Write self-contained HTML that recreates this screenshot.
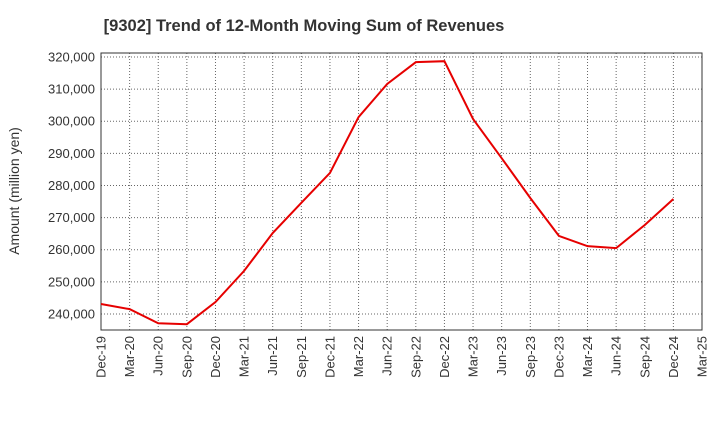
<!DOCTYPE html>
<html><head><meta charset="utf-8"><style>
body{margin:0;background:#fff;font-family:"Liberation Sans",sans-serif}
</style></head><body>
<svg id="c" width="720" height="440" xmlns="http://www.w3.org/2000/svg">
<text x="304" y="31" font-size="16.5" font-weight="bold" text-anchor="middle" fill="#333">[9302]  Trend of 12-Month Moving Sum of Revenues</text>
<text transform="translate(19,191) rotate(-90)" font-size="14" text-anchor="middle" fill="#333">Amount (million yen)</text>
<g id="grid"></g><g id="axes"></g>
<polyline id="line" fill="none" stroke="#e60000" stroke-width="2"/>
</svg>
<script>
const categories=["Dec-19","Mar-20","Jun-20","Sep-20","Dec-20","Mar-21","Jun-21","Sep-21","Dec-21","Mar-22","Jun-22","Sep-22","Dec-22","Mar-23","Jun-23","Sep-23","Dec-23","Mar-24","Jun-24","Sep-24","Dec-24","Mar-25"];
const values=[243100,241500,237100,236800,243700,253400,265200,274600,283900,301300,311600,318400,318700,300700,288500,276100,264300,261100,260500,267700,275800];
const yTicks=[240000,250000,260000,270000,280000,290000,300000,310000,320000];
const X0=101,X1=702,Y0=330,Y1=53,YMIN=235000,YMAX=321250;
const ns="http://www.w3.org/2000/svg";
const x=i=>X0+(X1-X0)*i/(categories.length-1);
const y=v=>Y0-(v-YMIN)/(YMAX-YMIN)*(Y0-Y1);
const g=document.getElementById('grid'),a=document.getElementById('axes');
function mk(t,at,p){const e=document.createElementNS(ns,t);for(const k in at)e.setAttribute(k,at[k]);p.appendChild(e);return e;}
categories.forEach((c,i)=>{
 const l=mk('line',{x1:x(i),x2:x(i),y1:Y1,y2:Y0,stroke:'#666','stroke-dasharray':'1,2','stroke-width':1},g);
 
 
 const t=mk('text',{transform:`translate(${x(i)+4.5},${Y0+6}) rotate(-90)`,'font-size':13,'text-anchor':'end',fill:'#333'},a);
 t.textContent=c;
 
 
});
yTicks.forEach(v=>{
 const l=mk('line',{x1:X0,x2:X1,y1:y(v),y2:y(v),stroke:'#666','stroke-dasharray':'1,2','stroke-width':1},g);
 
 
 const t=mk('text',{x:X0-6,y:y(v)+4.5,'font-size':13,'text-anchor':'end',fill:'#333'},a);
 t.textContent=v.toLocaleString('en-US');
 
 
});
const fr=mk('rect',{x:X0,y:Y1,width:X1-X0,height:Y0-Y1,fill:'none',stroke:'#333','stroke-width':1},a);


document.getElementById('line').setAttribute('points',values.map((v,i)=>x(i)+','+y(v)).join(' '));
</script>
</body></html>
